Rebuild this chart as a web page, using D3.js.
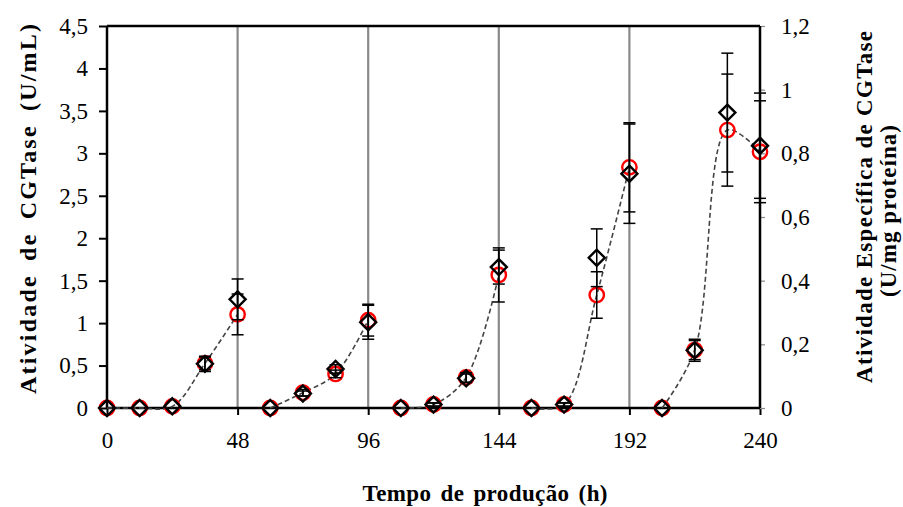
<!DOCTYPE html>
<html>
<head>
<meta charset="utf-8">
<script src="https://cdn.jsdelivr.net/npm/d3@7"></script>
<style>
  body { margin: 0; background: #fff; }
  text { font-family: "Liberation Serif", "Times New Roman", serif; }
</style>
</head>
<body>
<div id="chart"></div>
<script>
// production time (h), one batch every 48 h
var hours = [0, 12, 24, 36, 48, 60, 72, 84, 96, 108, 120, 132, 144, 156, 168, 180, 192, 204, 216, 228, 240];
var batch = [1, 1, 1, 1, 1, 2, 2, 2, 2, 3, 3, 3, 3, 4, 4, 4, 4, 5, 5, 5, 5];

// CGTase activity (U/mL) - diamonds, left axis
var activity = [0, 0, 0.02, 0.52, 1.28, 0, 0.17, 0.46, 1.01, 0, 0.04, 0.35, 1.66, 0, 0.04, 1.77, 2.76, 0, 0.68, 3.48, 3.09];
var activityErr = [0, 0, 0, 0.09, 0.24, 0, 0.03, 0.05, 0.2, 0, 0.02, 0.05, 0.2, 0, 0.02, 0.34, 0.585, 0, 0.13, 0.7, 0.62];

// specific activity (U/mg protein) - circles, right axis
var specific = [0, 0, 0.005, 0.14, 0.294, 0, 0.048, 0.107, 0.276, 0, 0.011, 0.096, 0.418, 0, 0.011, 0.355, 0.756, 0, 0.182, 0.873, 0.805];
var specificErr = [0, 0, 0, 0.02, 0.064, 0, 0.01, 0.012, 0.05, 0, 0.005, 0.015, 0.085, 0, 0.005, 0.073, 0.14, 0, 0.03, 0.176, 0.16];

var xTicks = [0, 48, 96, 144, 192, 240];
var leftTicks = [0, 0.5, 1, 1.5, 2, 2.5, 3, 3.5, 4, 4.5];
var rightTicks = [0, 0.2, 0.4, 0.6, 0.8, 1, 1.2];
var gridHours = [48, 96, 144, 192];

var svgWidth = 903;
var svgHeight = 507;
var margin = { top: 26, right: 143, bottom: 99, left: 107 };
var width = svgWidth - margin.left - margin.right;
var height = svgHeight - margin.top - margin.bottom;

var svg = d3.select("#chart")
    .append("svg")
    .attr("width", svgWidth)
    .attr("height", svgHeight);

var chartGroup = svg.append("g")
    .attr("transform", `translate(${margin.left}, ${margin.top})`);

var xScale = d3.scaleLinear().domain([0, 240]).range([0, width]);
var yLeft = d3.scaleLinear().domain([0, 4.5]).range([height, 0]);
var yRight = d3.scaleLinear().domain([0, 1.2]).range([height, 0]);

var comma = d => String(d).replace(".", ",");

// vertical grey lines between batches
chartGroup.selectAll(".grid")
    .data(gridHours)
    .enter()
    .append("line")
    .attr("x1", d => xScale(d))
    .attr("x2", d => xScale(d))
    .attr("y1", 0)
    .attr("y2", height)
    .attr("stroke", "#8a8a8a")
    .attr("stroke-width", 2.2);

// axes
var xAxis = chartGroup.append("g")
    .attr("transform", `translate(0, ${height})`)
    .call(d3.axisBottom(xScale).tickValues(xTicks).tickSize(7).tickSizeOuter(0).tickPadding(17));

var leftAxis = chartGroup.append("g")
    .call(d3.axisLeft(yLeft).tickValues(leftTicks).tickFormat(comma).tickSize(8).tickSizeOuter(0).tickPadding(11));

var rightAxis = chartGroup.append("g")
    .attr("transform", `translate(${width}, 0)`)
    .call(d3.axisRight(yRight).tickValues(rightTicks).tickFormat(comma).tickSize(5).tickSizeOuter(0).tickPadding(16));

[xAxis, leftAxis, rightAxis].forEach(function(g) {
    g.select(".domain").remove();
    g.selectAll("text").style("font-size", "23px").attr("fill", "#000");
    g.selectAll(".tick line").attr("stroke", "#000").attr("stroke-width", 2);
});
rightAxis.selectAll(".tick line").attr("stroke", "#888").attr("stroke-width", 1.2);

// plot frame: top, left, right and bottom
chartGroup.append("line").attr("x1", 0).attr("x2", width).attr("y1", 0).attr("y2", 0)
    .attr("stroke", "#000").attr("stroke-width", 2.5);
chartGroup.append("line").attr("x1", 0).attr("x2", 0).attr("y1", 0).attr("y2", height)
    .attr("stroke", "#000").attr("stroke-width", 2.5);
chartGroup.append("line").attr("x1", width).attr("x2", width).attr("y1", 0).attr("y2", height)
    .attr("stroke", "#000").attr("stroke-width", 2.5);
chartGroup.append("line").attr("x1", 0).attr("x2", width).attr("y1", height).attr("y2", height)
    .attr("stroke", "#000").attr("stroke-width", 2.5);

var points = hours.map(function(h, i) {
    return { h: h, batch: batch[i], a: activity[i], aErr: activityErr[i], s: specific[i], sErr: specificErr[i] };
});

// dashed smooth line through the specific activity, one per batch
var line = d3.line()
    .x(d => xScale(d.h))
    .y(d => yRight(d.s))
    .curve(d3.curveCatmullRom.alpha(0.5));

chartGroup.selectAll(".trend")
    .data(Array.from(d3.group(points, d => d.batch).values()))
    .enter()
    .append("path")
    .attr("d", line)
    .attr("fill", "none")
    .attr("stroke", "#444")
    .attr("stroke-width", 1.6)
    .attr("stroke-dasharray", "5,3");

// circles
chartGroup.selectAll(".spec")
    .data(points)
    .enter()
    .append("circle")
    .attr("cx", d => xScale(d.h))
    .attr("cy", d => yRight(d.s))
    .attr("r", 7.2)
    .attr("fill", "none")
    .attr("stroke", "#ff0000")
    .attr("stroke-width", 2.4);

// error bars
function errorBars(data, yS, val, err) {
    var g = chartGroup.append("g").attr("stroke", "#000").attr("stroke-width", 1.5);
    var withErr = data.filter(d => err(d) > 0);
    g.selectAll("line.v").data(withErr).enter().append("line")
        .attr("x1", d => xScale(d.h)).attr("x2", d => xScale(d.h))
        .attr("y1", d => yS(val(d) + err(d))).attr("y2", d => yS(val(d) - err(d)));
    [1, -1].forEach(function(sign) {
        g.selectAll("line.c" + sign).data(withErr).enter().append("line")
            .attr("x1", d => xScale(d.h) - 6).attr("x2", d => xScale(d.h) + 6)
            .attr("y1", d => yS(val(d) + sign * err(d))).attr("y2", d => yS(val(d) + sign * err(d)));
    });
}
errorBars(points, yRight, d => d.s, d => d.sErr);
errorBars(points, yLeft, d => d.a, d => d.aErr);

// diamonds
chartGroup.selectAll(".act")
    .data(points)
    .enter()
    .append("path")
    .attr("transform", d => `translate(${xScale(d.h)}, ${yLeft(d.a)})`)
    .attr("d", "M0,-8L8,0L0,8L-8,0Z")
    .attr("fill", "none")
    .attr("stroke", "#000")
    .attr("stroke-width", 2.4);

// axis titles
svg.append("text")
    .attr("transform", "translate(485, 501)")
    .style("text-anchor", "middle")
    .style("font-size", "23px")
    .style("font-weight", "bold")
    .style("word-spacing", "3px")
    .attr("textLength", 245)
    .attr("lengthAdjust", "spacing")
    .text("Tempo de produção (h)");

svg.append("text")
    .attr("transform", "translate(36, 209) rotate(-90)")
    .style("text-anchor", "middle")
    .style("font-size", "24px")
    .style("font-weight", "bold")
    .style("word-spacing", "5px")
    .attr("textLength", 370)
    .attr("lengthAdjust", "spacing")
    .text("Atividade de CGTase (U/mL)");

svg.append("text")
    .attr("transform", "translate(872, 207) rotate(-90)")
    .style("text-anchor", "middle")
    .style("font-size", "23px")
    .style("font-weight", "bold")
    .attr("textLength", 352)
    .attr("lengthAdjust", "spacing")
    .text("Atividade Específica de CGTase");

svg.append("text")
    .attr("transform", "translate(896, 211) rotate(-90)")
    .style("text-anchor", "middle")
    .style("font-size", "23px")
    .style("font-weight", "bold")
    .attr("textLength", 172)
    .attr("lengthAdjust", "spacing")
    .text("(U/mg proteína)");
</script>
</body>
</html>
